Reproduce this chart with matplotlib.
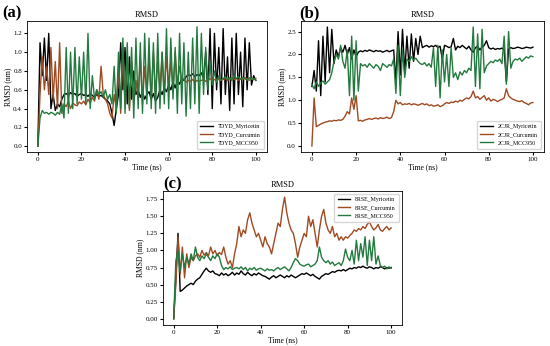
import numpy as np
import matplotlib
matplotlib.use("Agg")
import matplotlib.pyplot as plt

plt.rcParams['font.family'] = ['Liberation Serif', 'DejaVu Serif']

# time axis, 1 ns per frame
time = np.arange(0, 101)

# ---- panel (a) 7DYD ----
a_myr = [0.00, 1.10, 0.75, 1.15, 0.70, 1.20, 0.40, 0.55, 0.38, 0.45,
         0.42, 0.50, 0.55, 0.56, 0.54, 0.57, 0.55, 0.56, 0.53, 0.55,
         0.56, 0.54, 0.55, 0.53, 0.56, 0.54, 0.52, 0.55, 0.53, 0.54,
         0.52, 0.50, 0.48, 0.45, 0.35, 0.22, 0.40, 0.55, 1.10, 0.60,
         1.05, 0.45, 0.95, 0.50, 0.80, 0.55, 0.60, 0.52, 0.58, 0.50,
         0.55, 0.58, 0.50, 0.56, 0.48, 0.52, 0.60, 0.55, 0.62, 0.58,
         0.65, 0.60, 0.68, 0.62, 0.70, 0.66, 0.72, 0.70, 0.74, 0.76,
         0.75, 0.77, 0.74, 0.76, 0.75, 0.78, 0.72, 1.00, 0.55, 1.25,
         0.40, 1.20, 0.60, 1.05, 0.45, 1.25, 0.55, 0.95, 0.38, 1.15,
         0.45, 1.20, 0.55, 1.00, 0.42, 1.15, 0.60, 1.10, 0.65, 0.75,
         0.70]
a_cur = [0.00, 0.55, 0.95, 0.60, 0.85, 0.55, 1.05, 0.50, 0.90, 0.40,
         1.10, 0.35, 0.45, 0.42, 0.48, 0.40, 0.46, 0.44, 0.43, 0.47,
         0.45, 0.48, 0.44, 0.50, 0.46, 0.52, 0.48, 0.60, 0.50, 0.85,
         0.55, 0.50, 0.45, 0.35, 0.30, 0.55, 0.40, 0.85, 0.35, 1.05,
         0.45, 0.95, 0.38, 0.90, 0.45, 0.70, 0.50, 0.95, 0.45, 0.85,
         0.55, 0.95, 0.50, 1.00, 0.55, 0.90, 0.60, 1.00, 0.55, 0.95,
         0.65, 0.90, 0.60, 1.00, 0.65, 0.85, 0.70, 0.72, 0.68, 0.70,
         0.69, 0.71, 0.68, 0.70, 0.69, 0.70, 0.71, 0.69, 0.70, 0.72,
         0.70, 0.71, 0.69, 0.72, 0.70, 0.71, 0.72, 0.70, 0.71, 0.73,
         0.71, 0.72, 0.70, 0.72, 0.71, 0.73, 0.72, 0.70, 0.72, 0.71,
         0.72]
a_mcc = [0.00, 0.30, 0.38, 0.35, 0.36, 0.34, 0.36, 0.35, 0.33, 0.36,
         0.34, 0.45, 0.30, 1.05, 0.35, 1.00, 0.40, 1.05, 0.45, 0.95,
         0.50, 1.00, 0.45, 1.20, 0.40, 0.75, 0.50, 0.60, 0.55, 0.58,
         0.52, 0.60, 0.50, 0.55, 0.45, 0.85, 0.35, 1.00, 0.40, 1.15,
         0.35, 1.10, 0.40, 1.05, 0.30, 1.15, 0.40, 1.10, 0.35, 1.20,
         0.45, 1.15, 0.40, 1.10, 0.35, 1.20, 0.40, 1.00, 0.45, 1.25,
         0.40, 1.15, 0.50, 1.05, 0.35, 1.20, 0.45, 1.10, 0.32, 1.00,
         0.40, 1.15, 0.45, 1.27, 0.35, 1.20, 0.55, 1.05, 0.60, 0.90,
         0.65, 0.80, 0.68, 0.75, 0.70, 0.72, 0.74, 0.71, 0.73, 0.70,
         0.75, 0.72, 0.74, 0.71, 0.73, 0.72, 0.70, 0.73, 0.71, 0.72,
         0.70]

# ---- panel (b) 2CJR ----
b_myr = [1.30, 1.65, 1.20, 2.30, 1.10, 2.40, 1.40, 2.60, 1.60, 2.55,
         1.80, 2.10, 1.95, 2.15, 2.05, 2.20, 2.00, 2.15, 1.90, 2.10,
         1.95, 2.05, 2.08, 2.06, 2.09, 2.07, 2.10, 2.08, 2.06, 2.09,
         2.07, 2.08, 2.05, 2.07, 2.09, 2.06, 2.08, 2.10, 1.40, 2.50,
         1.55, 2.55, 1.60, 2.40, 1.70, 2.45, 1.85, 2.35, 2.00, 2.40,
         2.15, 2.18, 2.20, 2.16, 2.19, 2.17, 2.20, 2.15, 2.18, 1.90,
         2.20, 2.18, 2.15, 2.17, 2.35, 2.10, 2.18, 2.15, 2.20, 2.16,
         2.12, 2.18, 2.10, 2.05, 2.15, 2.18, 2.10, 2.16, 2.20, 2.30,
         2.15, 2.12, 2.14, 2.11, 2.13, 2.12, 2.14, 2.10, 1.40, 2.12,
         2.15, 2.13, 2.14, 2.16, 2.15, 2.13, 2.14, 2.16, 2.15, 2.14,
         2.16]
b_cur = [0.00, 1.05, 0.42, 0.45, 0.48, 0.50, 0.52, 0.53, 0.55, 0.54,
         0.56, 0.55, 0.57, 0.56, 0.58, 0.65, 0.75, 0.70, 1.05, 0.80,
         1.10, 0.55, 0.56, 0.54, 0.57, 0.58, 0.60, 0.58, 0.60, 0.61,
         0.59, 0.62, 0.60, 0.61, 0.63, 0.60, 0.62, 0.75, 1.00, 0.92,
         0.95, 0.90, 0.92, 0.91, 0.93, 0.90, 0.92, 0.91, 0.89, 0.91,
         0.93, 0.90, 0.92, 0.88, 0.90, 0.87, 0.88, 0.90, 0.86, 0.88,
         0.92, 0.95, 0.93, 0.96, 0.95, 0.98, 0.96, 1.00, 0.98, 1.02,
         1.05, 1.03, 1.08, 1.20, 1.05, 1.08, 1.02, 1.06, 1.10, 1.00,
         1.05, 0.98, 1.02, 1.00, 0.97, 1.00, 1.02, 1.05, 1.25, 1.10,
         1.05, 1.02, 1.00, 0.98, 0.97, 0.99, 0.95, 0.93, 0.90, 0.94,
         0.95]
b_mcc = [1.35, 1.25, 1.40, 1.30, 1.38, 1.42, 1.35, 1.40, 1.45, 1.60,
         1.85, 2.00, 1.90, 2.20, 1.85, 1.70, 2.10, 1.10, 2.40, 1.00,
         2.30, 1.20, 1.80, 1.75, 1.78, 1.72, 1.80, 1.75, 1.70, 1.78,
         1.74, 1.65, 1.80, 1.76, 1.72, 1.78, 1.75, 1.90, 1.15, 2.20,
         1.10, 2.10, 1.50, 1.90, 1.85, 1.95, 1.88, 1.92, 1.85, 1.80,
         1.78, 1.82, 1.75, 1.80, 1.72, 2.15, 1.30, 2.20, 1.05, 2.10,
         1.40, 2.00, 1.30, 2.15, 1.50, 1.60, 1.45, 1.62, 1.55, 1.65,
         1.60, 1.70, 1.65, 2.60, 1.30, 2.45, 1.25, 2.55, 1.60, 1.75,
         1.80, 1.85, 1.82, 1.88, 1.85, 1.90, 1.80, 2.40, 1.35, 2.50,
         1.70, 1.85, 1.90, 1.88, 1.92, 1.85, 1.90, 1.95, 1.92, 1.97,
         1.95]

# ---- panel (c) 8RSE ----
c_myr = [0.00, 0.60, 1.25, 0.40, 0.42, 0.45, 0.48, 0.50, 0.52, 0.50,
         0.55, 0.58, 0.60, 0.65, 0.70, 0.74, 0.70, 0.68, 0.70, 0.66,
         0.65, 0.63, 0.67, 0.64, 0.66, 0.63, 0.65, 0.68, 0.64, 0.67,
         0.65, 0.70, 0.66, 0.64, 0.68, 0.65, 0.63, 0.66, 0.64, 0.67,
         0.65, 0.63, 0.62, 0.60, 0.58, 0.61, 0.63, 0.60, 0.62, 0.64,
         0.62, 0.60, 0.63, 0.61, 0.64, 0.62, 0.60, 0.62, 0.64, 0.66,
         0.65, 0.67, 0.65, 0.63, 0.65, 0.62, 0.60, 0.58, 0.62, 0.64,
         0.66, 0.65, 0.67, 0.69, 0.68, 0.70, 0.71, 0.70, 0.72, 0.70,
         0.72, 0.74, 0.73, 0.75, 0.74, 0.76, 0.75, 0.77, 0.75, 0.74,
         0.76, 0.75, 0.73, 0.75, 0.74, 0.76, 0.75, 0.73, 0.75, 0.74,
         0.75]
c_cur = [0.00, 0.50, 1.20, 0.65, 1.05, 0.60, 0.95, 0.75, 0.90, 0.85,
         0.92, 0.95, 0.90, 1.00, 0.93, 0.97, 0.92, 1.05, 0.95, 1.00,
         0.92, 0.97, 0.94, 1.05, 0.90, 0.80, 0.85, 0.75, 0.95, 1.10,
         1.35, 1.20, 1.30, 1.25, 1.45, 1.55, 1.40, 1.30, 1.20, 1.25,
         1.15, 1.05, 1.20, 1.10, 1.05, 0.95, 1.10, 1.25, 1.40, 1.35,
         1.60, 1.78, 1.55, 1.40, 1.30, 1.25, 1.10, 0.90, 1.05, 1.15,
         1.25, 1.20, 1.50, 1.35, 1.45, 1.25, 1.05, 1.30, 1.50, 1.60,
         1.40, 1.30, 1.25, 1.35, 1.20, 1.25, 1.15, 1.20, 1.15, 1.20,
         1.18, 1.22, 1.25, 1.30, 1.28, 1.32, 1.30, 1.35, 1.32, 1.38,
         1.42, 1.35, 1.30, 1.33, 1.38, 1.30, 1.28, 1.32, 1.35, 1.30,
         1.33]
c_mcc = [0.00, 0.85, 1.00, 0.70, 0.95, 0.75, 0.90, 0.80, 0.95, 0.85,
         1.05, 0.90, 0.85, 0.92, 0.88, 0.95, 0.90, 0.85, 0.92, 0.88,
         0.95, 0.90, 0.78, 0.72, 0.75, 0.73, 0.76, 0.72, 0.74, 0.75,
         0.73, 0.76, 0.72, 0.75, 0.70, 0.74, 0.72, 0.75, 0.71, 0.73,
         0.74, 0.72, 0.70, 0.73, 0.71, 0.72, 0.70, 0.73, 0.75, 0.72,
         0.74, 0.76, 0.73, 0.70, 0.75, 0.82, 0.88, 0.85, 0.80, 0.78,
         0.77, 0.79, 0.80, 0.76, 0.78, 0.80, 0.85, 1.05, 0.90, 0.85,
         0.82, 0.85, 0.80, 0.83, 0.78, 0.80, 0.82, 0.78, 0.85, 1.02,
         0.90, 0.85, 1.00, 0.80, 1.15, 0.85, 1.10, 0.90, 1.20, 0.78,
         1.15, 0.85, 1.20, 0.80, 0.92, 0.78, 0.75, 0.77, 0.73, 0.76,
         0.74]

colors = ['black', '#a04a22', '#237a3e']

fig = plt.figure(figsize=(5.5, 3.46), dpi=100)
ax_a = fig.add_axes([0.049, 0.561, 0.436, 0.378])
ax_b = fig.add_axes([0.547, 0.561, 0.442, 0.378])
ax_c = fig.add_axes([0.296, 0.061, 0.435, 0.387])


def draw_panel(ax, prefix, series, yticks, legend_loc):
    names = ['Myricetin', 'Curcumin', 'MCC950']
    for vals, name, c in zip(series, names, colors):
        ax.plot(time, vals, color=c, linewidth=1.0, label=f"{prefix}_{name}")
    ax.set_title("RMSD", fontsize=6, pad=3)
    ax.set_xlabel("Time (ns)", fontsize=5.5, labelpad=1)
    ax.set_ylabel("RMSD (nm)", fontsize=5.5, labelpad=1)
    ax.set_xticks([0, 20, 40, 60, 80, 100])
    ax.set_yticks(yticks)
    ax.set_xlim(-5, 105)
    ax.tick_params(labelsize=5, length=2, pad=1.5)
    for s in ax.spines.values():
        s.set_linewidth(0.6)
    ax.legend(loc=legend_loc, fontsize=4.2, frameon=True, handlelength=2.2,
              borderpad=0.6, labelspacing=0.5, fancybox=True)


draw_panel(ax_a, '7DYD', [a_myr, a_cur, a_mcc], [0.0, 0.2, 0.4, 0.6, 0.8, 1.0, 1.2], 'lower right')
ax_a.set_ylim(-0.06, 1.33)
ax_a.yaxis.set_major_formatter(plt.FormatStrFormatter('%.1f'))

draw_panel(ax_b, '2CJR', [b_myr, b_cur, b_mcc], [0.0, 0.5, 1.0, 1.5, 2.0, 2.5], 'lower right')
ax_b.set_ylim(-0.13, 2.73)
ax_b.yaxis.set_major_formatter(plt.FormatStrFormatter('%.1f'))

draw_panel(ax_c, '8RSE', [c_myr, c_cur, c_mcc], [0.0, 0.25, 0.5, 0.75, 1.0, 1.25, 1.5, 1.75], 'upper right')
ax_c.set_ylim(-0.09, 1.87)
ax_c.yaxis.set_major_formatter(plt.FormatStrFormatter('%.2f'))

fig.text(0.004, 0.985, "(a)", fontsize=12, fontweight='bold', va='top')
fig.text(0.545, 0.985, "(b)", fontsize=12, fontweight='bold', va='top')
fig.text(0.296, 0.49, "(c)", fontsize=12, fontweight='bold', va='top')

fig.savefig("out.png", dpi=100)
